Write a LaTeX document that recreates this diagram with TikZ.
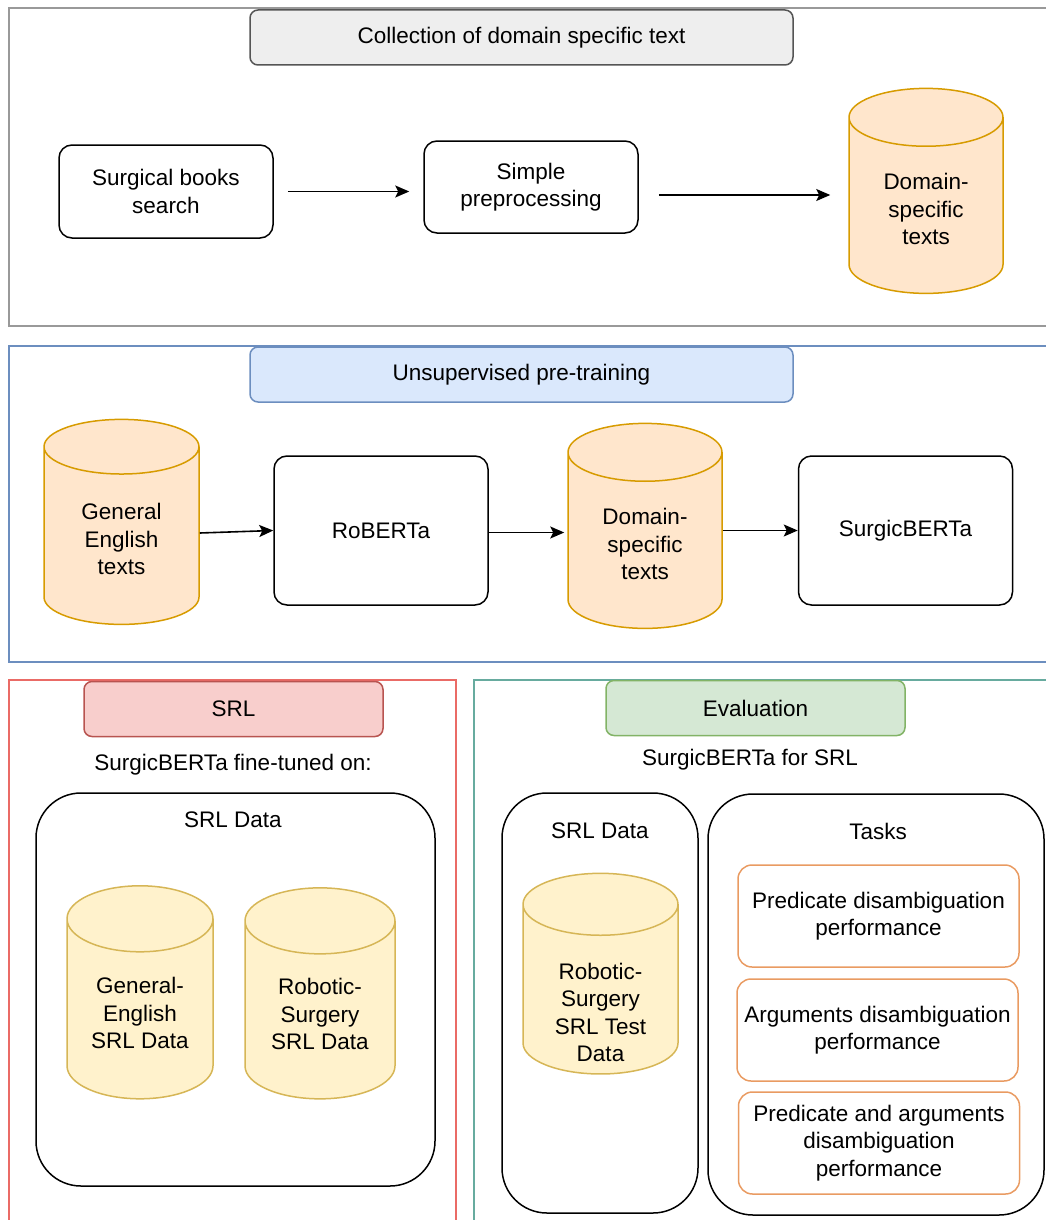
\documentclass[tikz,border=0pt]{standalone}
\usepackage{fontspec}
\setmainfont{Liberation Sans}
\usetikzlibrary{shapes.geometric,arrows.meta}

\definecolor{collectline}{HTML}{999999}
\definecolor{collectfill}{HTML}{EEEEEE}
\definecolor{collectdraw}{HTML}{555555}
\definecolor{pretrainline}{HTML}{6C8EBF}
\definecolor{pretrainfill}{HTML}{DAE8FC}
\definecolor{srlline}{HTML}{EA6B66}
\definecolor{srlfill}{HTML}{F8CECC}
\definecolor{srldraw}{HTML}{B85450}
\definecolor{evalline}{HTML}{67AB9F}
\definecolor{evalfill}{HTML}{D5E8D4}
\definecolor{evaldraw}{HTML}{82B366}
\definecolor{textfill}{HTML}{FFE6CC}
\definecolor{textdraw}{HTML}{D79B00}
\definecolor{datafill}{HTML}{FFF2CC}
\definecolor{datadraw}{HTML}{D6B656}
\definecolor{taskdraw}{HTML}{E99B62}

\tikzset{
  lbl/.style={font=\fontsize{22.5}{27.5}\selectfont, align=center},
  frame/.style={line width=1.5},
  titlebox/.style={draw, line width=1.5, rounded corners=8, minimum height=55, lbl},
  procbox/.style={draw, line width=1.5, rounded corners=13, minimum width=214, lbl},
  store/.style={cylinder, shape border rotate=90, draw, line width=1.5, aspect=0.65,
    inner sep=2, lbl},
  holder/.style={draw, line width=1.5, rounded corners=45},
  taskbox/.style={draw=taskdraw, line width=1.5, rounded corners=14, minimum width=281,
    minimum height=102, lbl},
  arr/.style={-{Stealth[length=14,width=12,inset=3]}, line width=1.6}
}

\begin{document}
\begin{tikzpicture}[x=1pt,y=-1pt]
\useasboundingbox (0,0) rectangle (1045,1220);

% collection of domain specific text
\draw[frame, collectline] (9,8) rectangle (1060,326);
\node (t1)[titlebox, fill=collectfill, draw=collectdraw, minimum width=543] at (521.5,37.5) {Collection of domain specific text};
\node (books)[procbox, minimum height=93] at (166,191.5) {Surgical books\\search};
\node (prep)[procbox, minimum height=92] at (531,187) {Simple\\preprocessing};
\node (dom1)[store, fill=textfill, draw=textdraw, minimum width=154, minimum height=205] at (926,209) {Domain-\\specific\\texts};
\draw[arr, shorten <=14, shorten >=14] (books.east) -- (books.east -| prep.west);
\draw[arr, shorten <=20, shorten >=18] ([yshift=-8]prep.east) -- ([yshift=-8]prep.east -| dom1.west);

% unsupervised pre-training
\draw[frame, pretrainline] (9,346) rectangle (1060,662);
\node (t2)[titlebox, fill=pretrainfill, draw=pretrainline, minimum width=543] at (521.5,374.5) {Unsupervised pre-training};
\node (gen)[store, fill=textfill, draw=textdraw, minimum width=155, minimum height=205] at (121.5,539) {General\\English\\texts};
\node (rob)[procbox, minimum height=149] at (381,530.5) {RoBERTa};
\node (dom2)[store, fill=textfill, draw=textdraw, minimum width=154, minimum height=205] at (645,544) {Domain-\\specific\\texts};
\node (surg)[procbox, minimum height=149] at (905.5,530.5) {SurgicBERTa};
\draw[arr] ([yshift=6]gen.east) -- (rob.west);
\draw[arr, shorten >=3] ([yshift=-2]rob.east) -- ([yshift=-2]rob.east -| dom2.west);
\draw[arr] (dom2.east |- surg.west) -- (surg.west);

% SRL
\draw[frame, srlline] (9,680) rectangle (456,1230);
\node (t3)[titlebox, fill=srlfill, draw=srldraw, minimum width=299] at (233.5,709) {SRL};
\node (ft)[lbl] at (233,765) {SurgicBERTa fine-tuned on:};
\draw[holder] (36,793) rectangle (435,1186);
\node (srld1)[lbl] at (233,820) {SRL Data};
\node (gsrl)[store, fill=datafill, draw=datadraw, minimum width=146, minimum height=213] at (140,1013) {General-\\English\\SRL Data};
\node (rsrl)[store, fill=datafill, draw=datadraw, minimum width=150, minimum height=211] at (320,1014) {Robotic-\\Surgery\\SRL Data};

% evaluation
\draw[frame, evalline] (474,680) rectangle (1060,1230);
\node (t4)[titlebox, fill=evalfill, draw=evaldraw, minimum width=299] at (755.5,708) {Evaluation};
\node (forsrl)[lbl] at (750,760) {SurgicBERTa for SRL};
\draw[holder] (502,793) rectangle (698,1213);
\node (srld2)[lbl] at (600,831) {SRL Data};
\node (test)[store, fill=datafill, draw=datadraw, minimum width=155, minimum height=196] at (600.5,993)
  {\raisebox{-22pt}[\height][\depth]{\begin{tabular}{@{}c@{}}Robotic-\\Surgery\\SRL Test\\Data\end{tabular}}};
\draw[holder] (708,794) rectangle (1044,1215);
\node (tasks)[lbl] at (878,831) {Tasks};
\node (pd)[taskbox] at (878.5,916) {Predicate disambiguation\\performance};
\node (ad)[taskbox] at (877.5,1030) {Arguments disambiguation\\performance};
\node (pad)[taskbox] at (879,1143) {Predicate and arguments\\disambiguation\\performance};
\end{tikzpicture}
\end{document}
